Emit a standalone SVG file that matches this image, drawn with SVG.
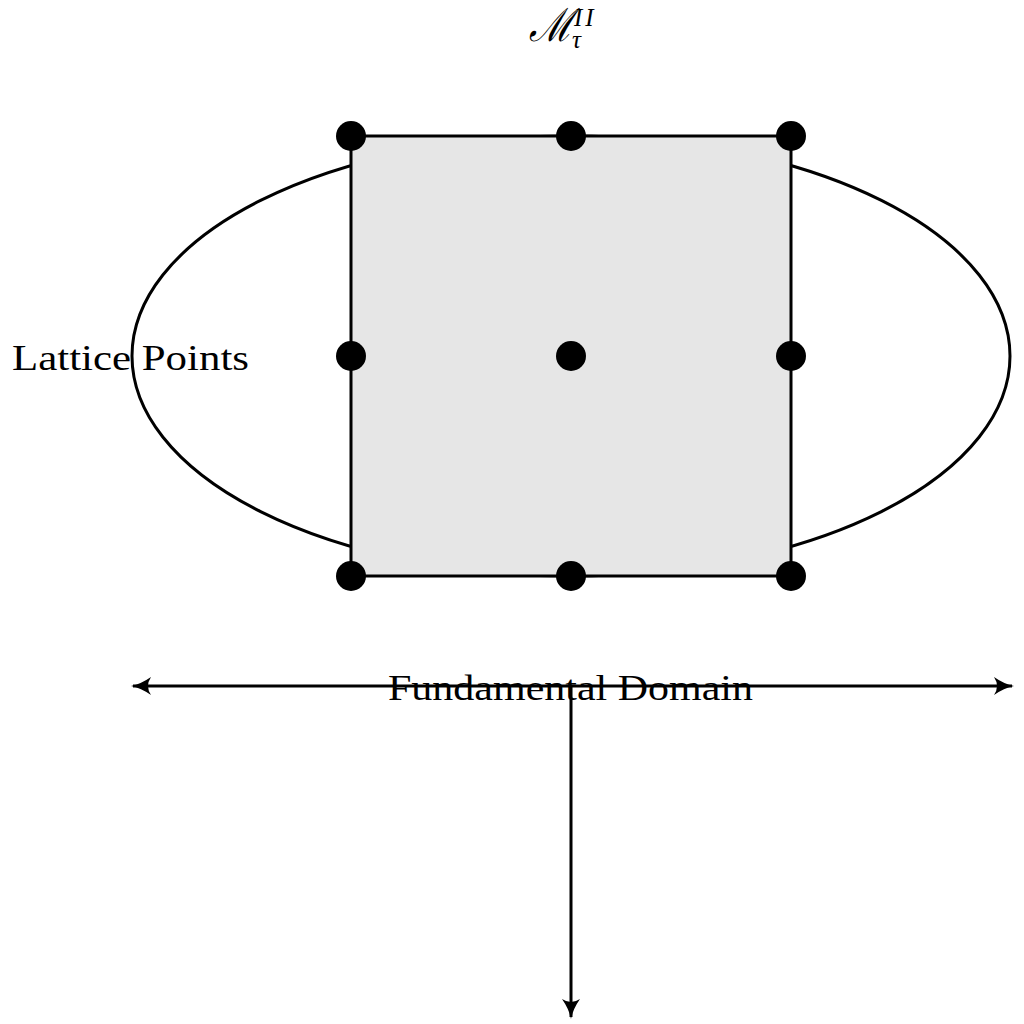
<svg xmlns="http://www.w3.org/2000/svg" width="1024" height="1024" viewBox="0 0 1024 1024">
<style>
.ln{fill:none;stroke:#000;stroke-width:3}
.dot{fill:#000}
.t{font-family:"Liberation Serif","DejaVu Serif",serif;fill:#000}
</style>
<defs>
<marker id="ah" viewBox="0 0 20 18" refX="18" refY="9" markerWidth="20" markerHeight="18" markerUnits="userSpaceOnUse" orient="auto">
<path d="M0,0 Q10,7 20,9 Q10,11 0,18 Q6,9 0,0 Z" fill="#000"/>
</marker>
</defs>
<rect width="1024" height="1024" fill="#fff"/>
<g id="title">
<text class="t" x="529" y="41" font-size="46" font-style="italic" textLength="44" lengthAdjust="spacingAndGlyphs">ℳ</text>
<text class="t" x="574" y="26" font-size="25" font-style="italic" font-family="DejaVu Serif,serif" letter-spacing="3">II</text>
<text class="t" x="572" y="48" font-size="25" font-style="italic">τ</text>
</g>
<g id="ellipse">
<ellipse class="ln" cx="571" cy="356" rx="439" ry="220"/>
</g>
<g id="domain">
<rect x="351" y="136" width="440" height="440" fill="#e6e6e6" stroke="#000" stroke-width="3"/>
</g>
<g id="connectors">
<line class="ln" x1="571" y1="686" x2="133" y2="686" marker-end="url(#ah)"/>
<line class="ln" x1="571" y1="686" x2="1012" y2="686" marker-end="url(#ah)"/>
<line class="ln" x1="571" y1="686" x2="571" y2="1017" marker-end="url(#ah)"/>
</g>
<g id="lattice-points">
<circle class="dot" cx="351" cy="136" r="15"/>
<circle class="dot" cx="571" cy="136" r="15"/>
<circle class="dot" cx="791" cy="136" r="15"/>
<circle class="dot" cx="351" cy="356" r="15"/>
<circle class="dot" cx="571" cy="356" r="15"/>
<circle class="dot" cx="791" cy="356" r="15"/>
<circle class="dot" cx="351" cy="576" r="15"/>
<circle class="dot" cx="571" cy="576" r="15"/>
<circle class="dot" cx="791" cy="576" r="15"/>
</g>
<g id="labels">
<text class="t" x="12" y="370" font-size="36" textLength="237" lengthAdjust="spacingAndGlyphs">Lattice Points</text>
<text class="t" x="388" y="700" font-size="36" textLength="365" lengthAdjust="spacingAndGlyphs">Fundamental Domain</text>
</g>
</svg>
